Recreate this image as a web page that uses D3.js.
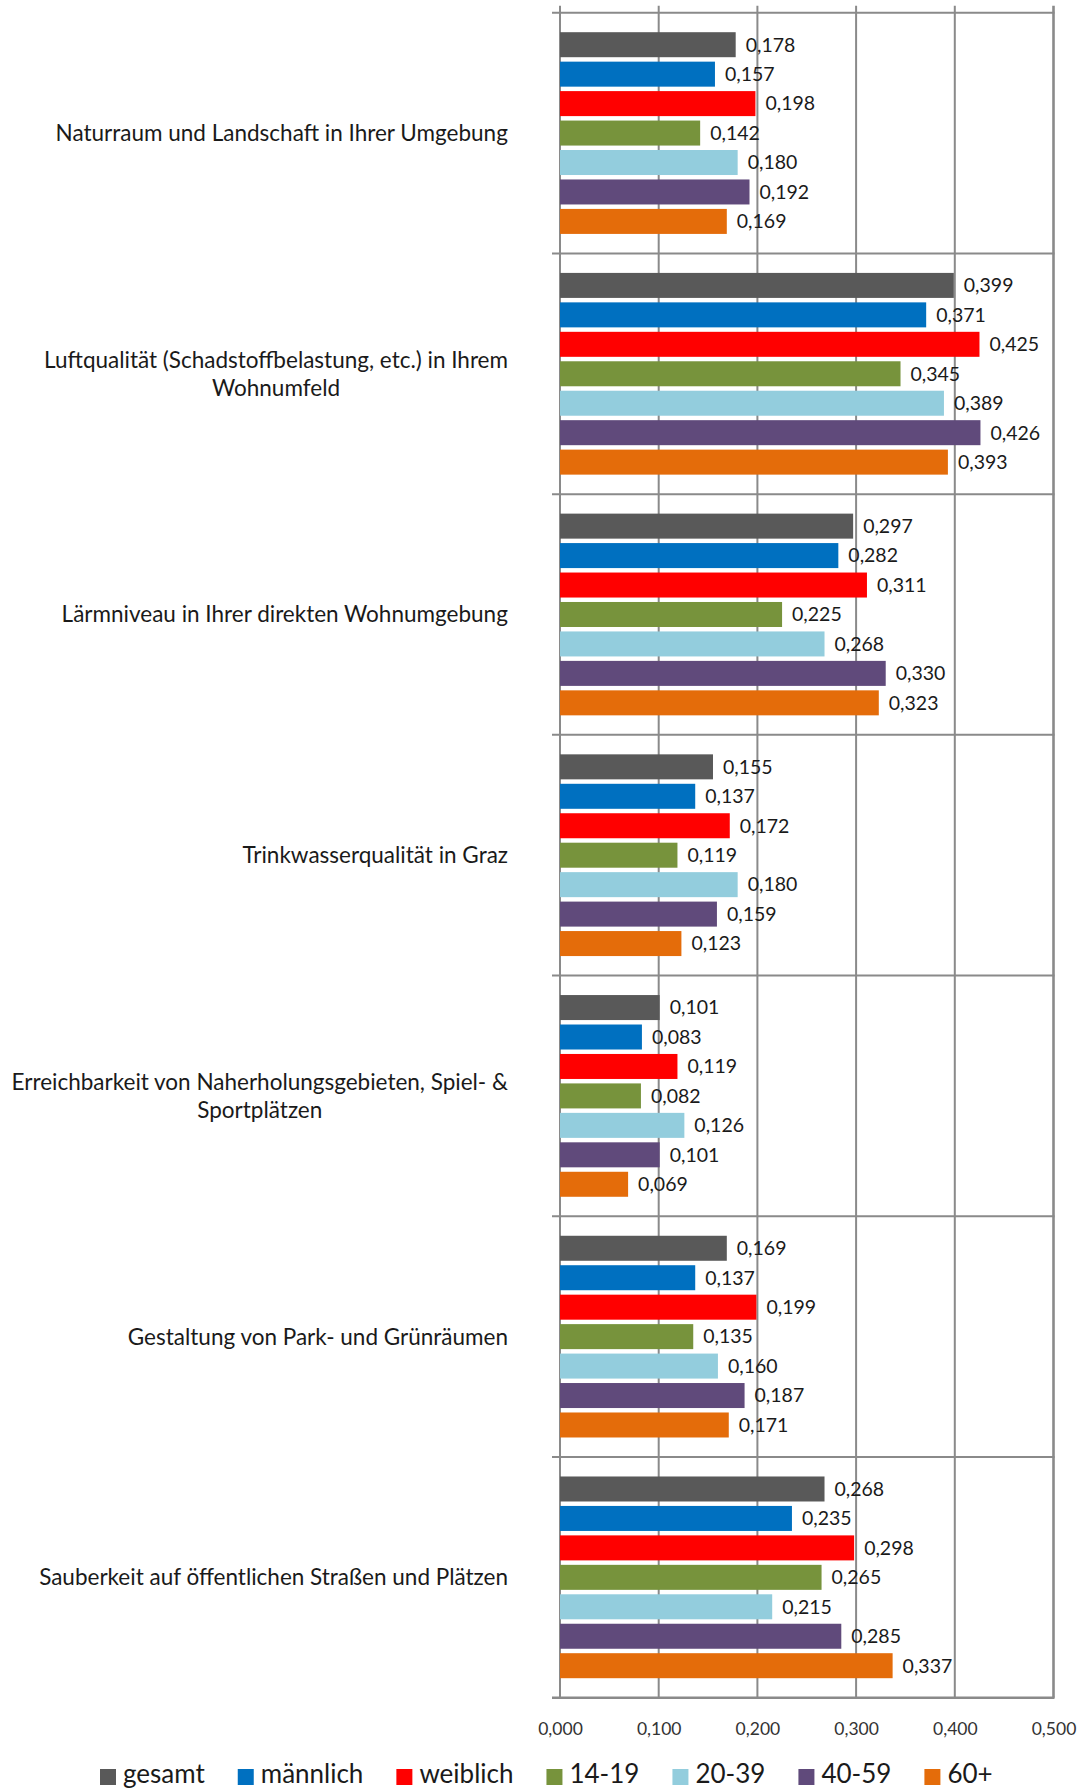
<!DOCTYPE html>
<html>
<head>
<meta charset="utf-8">
<script src="https://cdn.jsdelivr.net/npm/d3@7"></script>
<style>
  body { margin: 0; background: #fff; }
  text { font-family: Lato, "Open Sans", sans-serif; fill: #1a1a1a; }
</style>
</head>
<body>
<script>
// categories (top to bottom), lines of each label
var categories = [
    ["Naturraum und Landschaft in Ihrer Umgebung"],
    ["Luftqualität (Schadstoffbelastung, etc.) in Ihrem", "Wohnumfeld"],
    ["Lärmniveau in Ihrer direkten Wohnumgebung"],
    ["Trinkwasserqualität in Graz"],
    ["Erreichbarkeit von Naherholungsgebieten, Spiel- &", "Sportplätzen"],
    ["Gestaltung von Park- und Grünräumen"],
    ["Sauberkeit auf öffentlichen Straßen und Plätzen"]
];

var seriesNames = ["gesamt", "männlich", "weiblich", "14-19", "20-39", "40-59", "60+"];
var seriesColors = ["#595959", "#0070c0", "#ff0000", "#77933c", "#93cddd", "#604a7b", "#e46c0a"];

var gesamt   = [0.178, 0.399, 0.297, 0.155, 0.101, 0.169, 0.268];
var maennlich = [0.157, 0.371, 0.282, 0.137, 0.083, 0.137, 0.235];
var weiblich = [0.198, 0.425, 0.311, 0.172, 0.119, 0.199, 0.298];
var age1419  = [0.142, 0.345, 0.225, 0.119, 0.082, 0.135, 0.265];
var age2039  = [0.180, 0.389, 0.268, 0.180, 0.126, 0.160, 0.215];
var age4059  = [0.192, 0.426, 0.330, 0.159, 0.101, 0.187, 0.285];
var age60    = [0.169, 0.393, 0.323, 0.123, 0.069, 0.171, 0.337];

var xTicks = [0, 0.1, 0.2, 0.3, 0.4, 0.5];

var seriesValues = [gesamt, maennlich, weiblich, age1419, age2039, age4059, age60];

draw();

function draw() {
    var width = 1083,
        height = 1789,
        plotLeft = 560,
        plotRight = 1053.5,
        plotTop = 12.7,
        plotBottom = 1697.7,
        gridColor = "#8a8a8a";

    var fmt = function (v) { return d3.format(".3f")(v).replace(".", ","); };

    var catIds = d3.range(categories.length);

    var x = d3.scaleLinear()
        .domain([0, 0.5])
        .range([plotLeft, plotRight]);

    var y = d3.scaleBand()
        .domain(catIds)
        .range([plotTop, plotBottom]);

    var ySub = d3.scaleBand()
        .domain(seriesNames)
        .range([0, y.bandwidth()])
        .paddingInner(0.151)
        .paddingOuter(0.662);

    var color = d3.scaleOrdinal()
        .domain(seriesNames)
        .range(seriesColors);

    var svg = d3.select("body")
        .append("svg")
        .attr("width", width)
        .attr("height", height);

    // vertical grid lines
    svg.append("g")
        .selectAll("line")
        .data(xTicks)
        .enter()
        .append("line")
        .attr("x1", function (d) { return x(d); })
        .attr("x2", function (d) { return x(d); })
        .attr("y1", plotTop - 7)
        .attr("y2", plotBottom)
        .attr("stroke", gridColor)
        .attr("stroke-width", function (d) { return d === 0.5 ? 2.6 : 2; });

    // category separator lines
    var seps = catIds.map(function (c) { return y(c); }).concat([plotBottom]);
    svg.append("g")
        .selectAll("line")
        .data(seps)
        .enter()
        .append("line")
        .attr("x1", plotLeft - 8)
        .attr("x2", plotRight + 1)
        .attr("y1", function (d) { return d; })
        .attr("y2", function (d) { return d; })
        .attr("stroke", gridColor)
        .attr("stroke-width", function (d, i) { return i === seps.length - 1 ? 2.6 : 2; });

    // bars
    var rows = [];
    catIds.forEach(function (c) {
        seriesNames.forEach(function (s, si) {
            rows.push({ cat: c, series: s, value: seriesValues[si][c] });
        });
    });

    var g = svg.append("g");

    g.selectAll("rect")
        .data(rows)
        .enter()
        .append("rect")
        .attr("x", x(0))
        .attr("y", function (d) { return y(d.cat) + ySub(d.series); })
        .attr("width", function (d) { return x(d.value) - x(0); })
        .attr("height", ySub.bandwidth())
        .attr("fill", function (d) { return color(d.series); });

    g.selectAll("text")
        .data(rows)
        .enter()
        .append("text")
        .attr("x", function (d) { return x(d.value) + 10; })
        .attr("y", function (d) { return y(d.cat) + ySub(d.series) + ySub.bandwidth() / 2; })
        .attr("dy", "0.35em")
        .style("font-size", "19.5px")
        .text(function (d) { return fmt(d.value); });

    // category labels
    var lineH = 28;
    var labelRight = 508;
    var labels = svg.append("g")
        .selectAll("text")
        .data(catIds)
        .enter()
        .append("text")
        .style("font-size", "22.5px")
        .attr("text-anchor", "middle");

    labels.each(function (c) {
        var t = d3.select(this);
        var lines = categories[c];
        var cy = y(c) + y.bandwidth() / 2;
        lines.forEach(function (ln, i) {
            t.append("tspan")
                .attr("x", 0)
                .attr("y", cy + (i - (lines.length - 1) / 2) * lineH)
                .attr("dy", "0.35em")
                .text(ln);
        });
        // right-align the block, center the lines inside it
        var w = this.getBBox().width;
        t.selectAll("tspan").attr("x", labelRight - w / 2);
    });

    // x axis labels
    var xAxis = d3.axisBottom(x)
        .tickValues(xTicks)
        .tickSize(0)
        .tickPadding(0)
        .tickFormat(fmt);

    var ax = svg.append("g")
        .attr("transform", "translate(0," + 1729 + ")")
        .call(xAxis);
    ax.select(".domain").remove();
    ax.selectAll("text")
        .attr("dy", "0.35em")
        .attr("y", 0)
        .style("font-family", "Lato, sans-serif")
        .style("font-size", "17.5px")
        .style("fill", "#333");

    // legend
    var legend = svg.append("g");
    var lx = 100;
    seriesNames.forEach(function (s) {
        legend.append("rect")
            .attr("x", lx)
            .attr("y", 1769)
            .attr("width", 16)
            .attr("height", 16)
            .attr("fill", color(s));
        var t = legend.append("text")
            .attr("x", lx + 23)
            .attr("y", 1783)
            .style("font-size", "26px")
            .text(s);
        lx = lx + 23 + t.node().getComputedTextLength() + 33;
    });
}
</script>
</body>
</html>
